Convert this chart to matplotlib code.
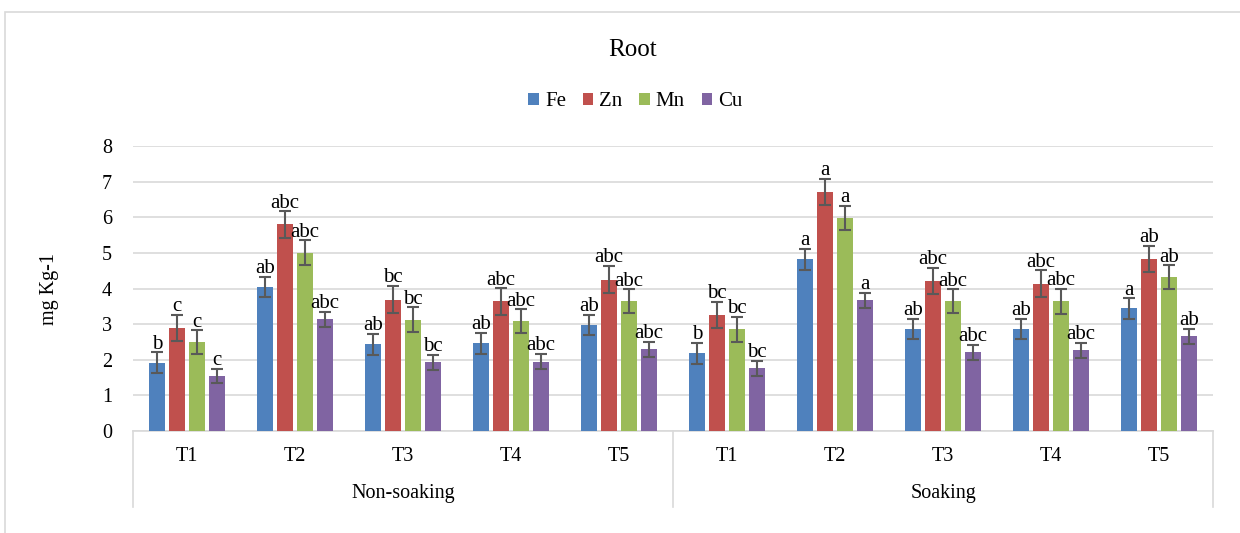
import numpy as np
import matplotlib
matplotlib.use("Agg")
import matplotlib.pyplot as plt
from matplotlib.patches import Rectangle

plt.rcParams['font.family'] = ['Liberation Serif', 'DejaVu Serif']

treatments = ['T1', 'T2', 'T3', 'T4', 'T5', 'T1', 'T2', 'T3', 'T4', 'T5']
groups = ['Non-soaking', 'Soaking']
elements = ['Fe', 'Zn', 'Mn', 'Cu']
colors = ['#4F81BD', '#C0504D', '#9BBB59', '#8064A2']

fe = [1.92, 4.05, 2.43, 2.46, 2.98, 2.18, 4.82, 2.86, 2.86, 3.44]
zn = [2.90, 5.80, 3.69, 3.64, 4.25, 3.25, 6.71, 4.21, 4.14, 4.83]
mn = [2.49, 5.01, 3.13, 3.08, 3.64, 2.85, 5.98, 3.64, 3.64, 4.32]
cu = [1.55, 3.14, 1.93, 1.95, 2.29, 1.76, 3.67, 2.21, 2.26, 2.66]

fe_err = [0.29, 0.28, 0.29, 0.29, 0.29, 0.29, 0.29, 0.29, 0.29, 0.29]
zn_err = [0.37, 0.37, 0.38, 0.37, 0.38, 0.37, 0.37, 0.37, 0.37, 0.37]
mn_err = [0.34, 0.34, 0.34, 0.34, 0.34, 0.35, 0.34, 0.34, 0.35, 0.33]
cu_err = [0.20, 0.21, 0.21, 0.21, 0.21, 0.21, 0.21, 0.21, 0.21, 0.21]

fe_lab = ['b', 'ab', 'ab', 'ab', 'ab', 'b', 'a', 'ab', 'ab', 'a']
zn_lab = ['c', 'abc', 'bc', 'abc', 'abc', 'bc', 'a', 'abc', 'abc', 'ab']
mn_lab = ['c', 'abc', 'bc', 'abc', 'abc', 'bc', 'a', 'abc', 'abc', 'ab']
cu_lab = ['c', 'abc', 'bc', 'abc', 'abc', 'bc', 'a', 'abc', 'abc', 'ab']

values = [fe, zn, mn, cu]
errors = [fe_err, zn_err, mn_err, cu_err]
letters = [fe_lab, zn_lab, mn_lab, cu_lab]

FS = 14.5

fig = plt.figure(figsize=(12.4, 5.33), dpi=100)
ax = fig.add_axes([0.1073, 0.1914, 0.8710, 0.5346])

x = np.arange(len(treatments))
step = 0.185
width = 0.145
for i, el in enumerate(elements):
    pos = x + (i - 1.5) * step
    ax.bar(pos, values[i], width, color=colors[i], label=el, zorder=3)
    ax.errorbar(pos, values[i], yerr=errors[i], fmt='none', ecolor='#595959',
                elinewidth=1.5, capsize=4, capthick=1.5, zorder=4)
    for p, v, e, t in zip(pos, values[i], errors[i], letters[i]):
        ax.annotate(t, (p, v + e), xytext=(0, -1), textcoords='offset points',
                    ha='center', va='bottom', fontsize=15, zorder=5)

ax.set_xlim(-0.5, len(treatments) - 0.5)
ax.set_ylim(0, 8)
ax.set_yticks(range(0, 9))
ax.tick_params(axis='y', length=0, labelsize=FS, pad=15)
ax.tick_params(axis='x', length=0)
ax.set_xticks([])
ax.grid(axis='y', color='#d9d9d9', linewidth=1.2, zorder=0)
for s in ['top', 'right', 'left']:
    ax.spines[s].set_visible(False)
ax.spines['bottom'].set_color('#d9d9d9')
ax.spines['bottom'].set_linewidth(1.2)

# two-level category axis
tr = ax.get_xaxis_transform()
for xv in [-0.5, 4.5, 9.5]:
    ax.plot([xv, xv], [0, -0.267], color='#d9d9d9', lw=1.2,
            transform=tr, clip_on=False)
for xi, t in zip(x, treatments):
    ax.text(xi, -0.091, t, transform=tr, ha='center', va='center', fontsize=FS)
ax.text(2, -0.221, groups[0], transform=tr, ha='center', va='center', fontsize=FS)
ax.text(7, -0.221, groups[1], transform=tr, ha='center', va='center', fontsize=FS)

ax.set_ylabel('mg Kg-1', fontsize=FS, labelpad=31)

fig.text(0.5105, 0.906, 'Root', ha='center', va='center', fontsize=18)
fig.legend(loc='center', bbox_to_anchor=(0.5125, 0.809), ncol=4, frameon=False,
           fontsize=15, handlelength=0.5, handleheight=0.5, handletextpad=0.3,
           columnspacing=0.8)

fig.patches.append(Rectangle((5 / 1240, -0.5), 2, 0.5 + 1 - 12 / 533,
                             transform=fig.transFigure, fill=False,
                             edgecolor='#d9d9d9', lw=1.2))

fig.savefig('out.png', dpi=100, facecolor='white')
